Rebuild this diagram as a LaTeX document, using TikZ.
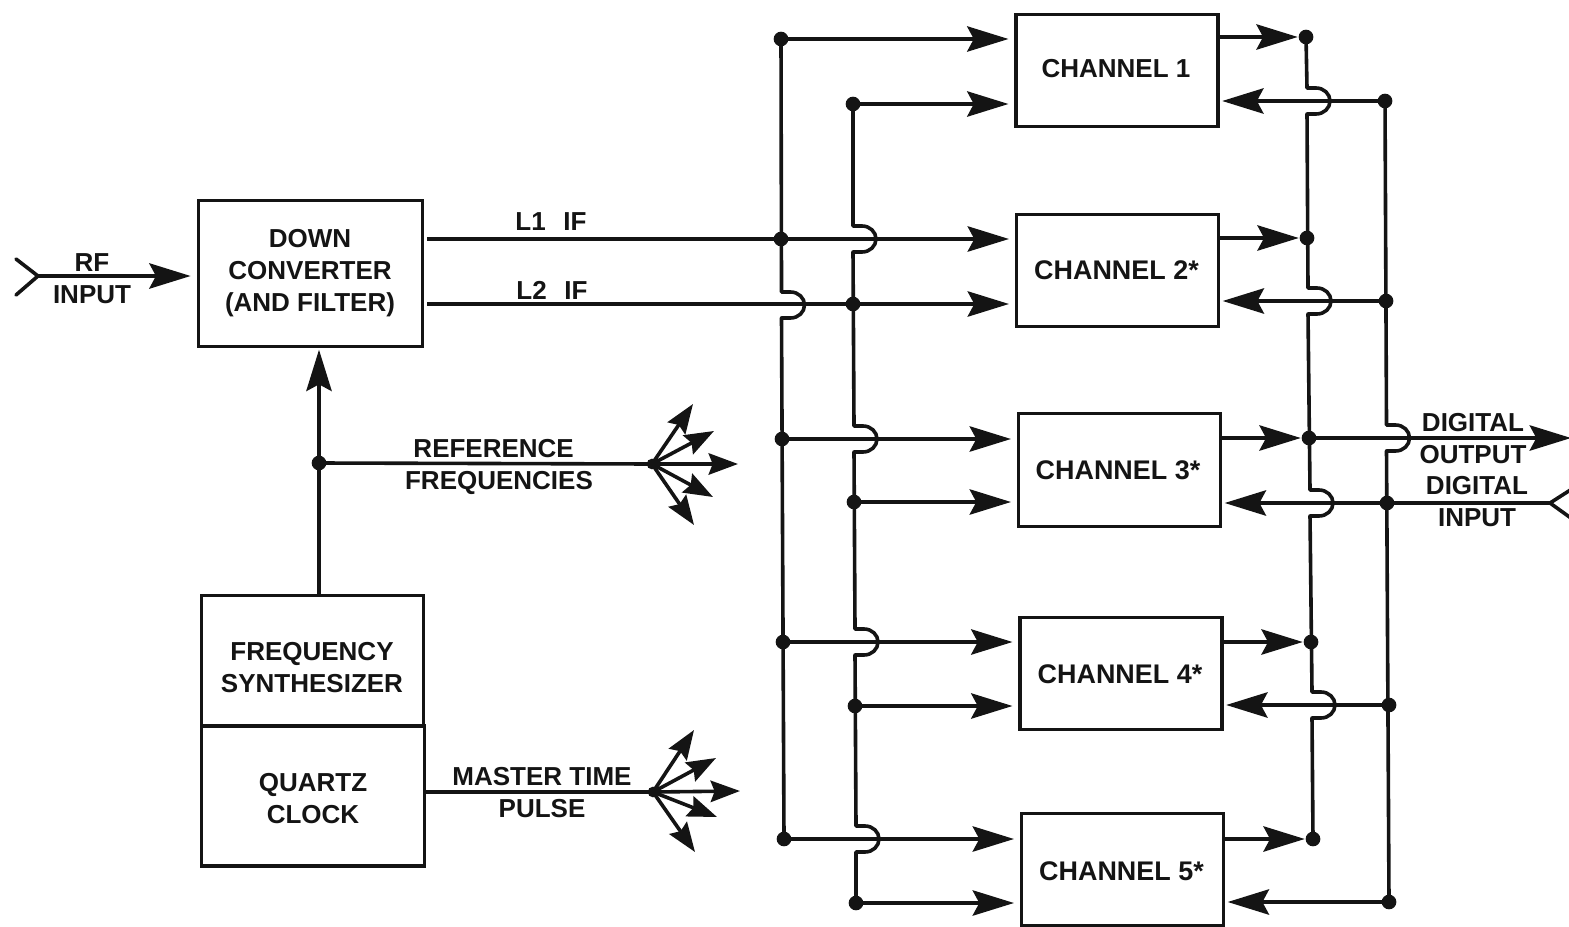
\documentclass[tikz,border=0pt]{standalone}
\usepackage{fontspec}
\setmainfont{Liberation Sans}
\usetikzlibrary{arrows.meta,calc}
\definecolor{ink}{HTML}{141414}
\tikzset{
  wire/.style={draw=ink,line width=2.7pt,line cap=round,line join=round},
  arr/.style={wire,-{Stealth[length=31pt,width=19pt,inset=5pt]},line cap=butt},
  fanarr/.style={wire,-{Stealth[length=22pt,width=16pt,inset=3pt]},line cap=butt},
  boxn/.style={draw=ink,line width=2.3pt,rectangle,inner sep=0pt,align=center,text=ink,
    font=\fontsize{19.5}{24}\selectfont\bfseries},
  chan/.style={boxn,minimum width=151.5pt,minimum height=84.5pt},
  lbl/.style={inner sep=0pt,align=center,text=ink,font=\fontsize{19.5}{24}\selectfont\bfseries},
  lblw/.style={lbl,font=\fontsize{20.2}{24}\selectfont\bfseries},
  dot/.style={circle,fill=ink,draw=none,inner sep=0pt,minimum size=11pt},
  fandot/.style={circle,fill=ink,draw=none,inner sep=0pt,minimum size=8pt}
}
\newcommand{\hp}[1]{-- ($(#1)+(0,-13)$) -- ($(#1)+(9,-13)$)
  .. controls ($(#1)+(17,-13)$) and ($(#1)+(23,-7)$) .. ($(#1)+(23,0)$)
  .. controls ($(#1)+(23,7)$) and ($(#1)+(17,13)$) .. ($(#1)+(9,13)$)
  -- ($(#1)+(0,13)$)}
\begin{document}
\begin{tikzpicture}[x=0.75pt,y=-0.75pt]
\useasboundingbox (0,0) rectangle (1569,927);
% boxes
\node[boxn,minimum width=168.5pt,minimum height=110pt] (down) at (310.5,273.5) {};
\node[lbl] (downtxt) at (310,273) {DOWN\\CONVERTER\\(AND FILTER)};
\node[boxn,minimum width=167pt,minimum height=98pt] (synth) at (312.5,660.5) {};
\node[lbl] (synthtxt) at (312,668) {FREQUENCY\\SYNTHESIZER};
\node[boxn,minimum width=167pt,minimum height=105pt] (quartz) at (313,796) {};
\node[lbl] (quartztxt) at (313,799) {QUARTZ\\CLOCK};
\node[chan] (ch1) at (1117,70.5) {};
\node[chan] (ch2) at (1117.5,270.5) {};
\node[chan] (ch3) at (1119.5,470) {};
\node[chan] (ch4) at (1121,673.5) {};
\node[chan] (ch5) at (1122.5,869.5) {};
\node[lbl] (t1) at (1116,69) {CHANNEL 1};
\node[lblw] (t2) at (1116.5,270) {CHANNEL 2*};
\node[lblw] (t3) at (1118,470.5) {CHANNEL 3*};
\node[lblw] (t4) at (1120,674.5) {CHANNEL 4*};
\node[lblw] (t5) at (1121.5,871.5) {CHANNEL 5*};
% junctions
\node[dot] (a1) at (781,39) {};
\node[dot] (a2) at (781,239) {};
\node[dot] (a3) at (782,439) {};
\node[dot] (a4) at (783,642) {};
\node[dot] (a5) at (784,839) {};
\node[dot] (b1) at (853,104) {};
\node[dot] (b2) at (853,304) {};
\node[dot] (b3) at (854,502) {};
\node[dot] (b4) at (855,706) {};
\node[dot] (b5) at (856,903) {};
\node[dot] (c1) at (1306,37) {};
\node[dot] (c2) at (1307,238) {};
\node[dot] (c3) at (1309,438) {};
\node[dot] (c4) at (1311,642) {};
\node[dot] (c5) at (1313,839) {};
\node[dot] (d1) at (1385,101) {};
\node[dot] (d2) at (1386,301) {};
\node[dot] (d3) at (1387,503) {};
\node[dot] (d4) at (1389,705) {};
\node[dot] (d5) at (1389,902) {};
\node[dot] (ref) at (319,463) {};
\node[fandot] (fan1) at (652,464) {};
\node[fandot] (fan2) at (653,792) {};
% crossing points
\coordinate (hA) at (781.5,305);
\coordinate (hB1) at (853,239);
\coordinate (hB2) at (854,439);
\coordinate (hB3) at (855,642);
\coordinate (hB4) at (856,839);
\coordinate (hC1) at (1307,101);
\coordinate (hC2) at (1308,301);
\coordinate (hC3) at (1310,503);
\coordinate (hC4) at (1312,705);
\coordinate (hD) at (1386.5,438);
% free ends
\coordinate (rfa) at (16,259);
\coordinate (rfb) at (16,295);
\coordinate (rf) at (38,276);
\coordinate (doA) at (1571,438);
\coordinate (dif) at (1550,503);
\coordinate (difa) at (1575,487);
\coordinate (difb) at (1575,521);
\coordinate (f1a) at (693,404);
\coordinate (f1b) at (714,431);
\coordinate (f1c) at (738,464);
\coordinate (f1d) at (713,497);
\coordinate (f1e) at (694,525);
\coordinate (f2a) at (694,730);
\coordinate (f2b) at (716,758);
\coordinate (f2c) at (740,791);
\coordinate (f2d) at (717,817);
\coordinate (f2e) at (695,852);
% buses
\draw[wire] (a1.center) \hp{hA} -- (a5.center);
\draw[wire] (b1.center) \hp{hB1} \hp{hB2} \hp{hB3} \hp{hB4} -- (b5.center);
\draw[wire] (c1.center) \hp{hC1} \hp{hC2} \hp{hC3} \hp{hC4} -- (c5.center);
\draw[wire] (d1.center) \hp{hD} -- (d5.center);
% inputs to channels
\draw[arr,shorten >=4.5pt] (a1.center) -- (ch1.west |- a1);
\draw[arr,shorten >=4.5pt] (b1.center) -- (ch1.west |- b1);
\draw[arr,shorten <=2pt,shorten >=4.5pt] (down.east |- a2) -- (ch2.west |- a2);
\draw[arr,shorten <=2pt,shorten >=4.5pt] (down.east |- b2) -- (ch2.west |- b2);
\draw[arr,shorten >=4.5pt] (a3.center) -- (ch3.west |- a3);
\draw[arr,shorten >=4.5pt] (b3.center) -- (ch3.west |- b3);
\draw[arr,shorten >=4.5pt] (a4.center) -- (ch4.west |- a4);
\draw[arr,shorten >=4.5pt] (b4.center) -- (ch4.west |- b4);
\draw[arr,shorten >=4.5pt] (a5.center) -- (ch5.west |- a5);
\draw[arr,shorten >=4.5pt] (b5.center) -- (ch5.west |- b5);
% outputs of channels
\draw[arr,shorten >=0.5pt] (ch1.east |- c1) -- (c1);
\draw[arr,shorten >=0.5pt] (ch2.east |- c2) -- (c2);
\draw[arr,shorten >=0.5pt] (ch3.east |- c3) -- (c3);
\draw[arr,shorten >=0.5pt] (ch4.east |- c4) -- (c4);
\draw[arr,shorten >=0.5pt] (ch5.east |- c5) -- (c5);
% returns to channels
\draw[arr,shorten >=2pt] (d1.center) -- (ch1.east |- d1);
\draw[arr,shorten >=2pt] (d2.center) -- (ch2.east |- d2);
\draw[arr,shorten >=2pt] (d3.center) -- (ch3.east |- d3);
\draw[arr,shorten >=2pt] (d4.center) -- (ch4.east |- d4);
\draw[arr,shorten >=2pt] (d5.center) -- (ch5.east |- d5);
% digital I/O
\draw[arr] (c3.center) -- (doA);
\draw[wire] (d3.center) -- (dif);
\draw[wire] (difa) -- (dif) -- (difb);
% RF input
\draw[wire] (rfa) -- (rf) -- (rfb);
\draw[arr,shorten >=4.5pt] (rf) -- (down.west |- rf);
% synthesizer
\draw[arr,shorten >=1pt] (synth.north -| ref) -- (down.south -| ref);
\draw[wire] (ref.center) -- (fan1.center);
\draw[wire] (quartz.east |- fan2) -- (fan2.center);
\foreach \t in {f1a,f1b,f1c,f1d,f1e}{\draw[fanarr] (fan1.center) -- (\t);}
\foreach \t in {f2a,f2b,f2c,f2d,f2e}{\draw[fanarr] (fan2.center) -- (\t);}
% labels
\node[lbl] (lrf) at (92,279) {RF\\INPUT};
\node[lbl] (ll1) at (551,222) {L1\hspace{0.4em} IF};
\node[lbl] (ll2) at (552,290) {L2\hspace{0.4em} IF};
\node[lbl] (lref) at (499,467) {\hspace{-8pt}REFERENCE\\FREQUENCIES};
\node[lbl] (lmtp) at (542,793) {MASTER TIME\\PULSE};
\node[lbl] (ldo) at (1473,438.5) {DIGITAL\\OUTPUT};
\node[lbl] (ldi) at (1477,502) {DIGITAL\\INPUT};
\end{tikzpicture}
\end{document}
